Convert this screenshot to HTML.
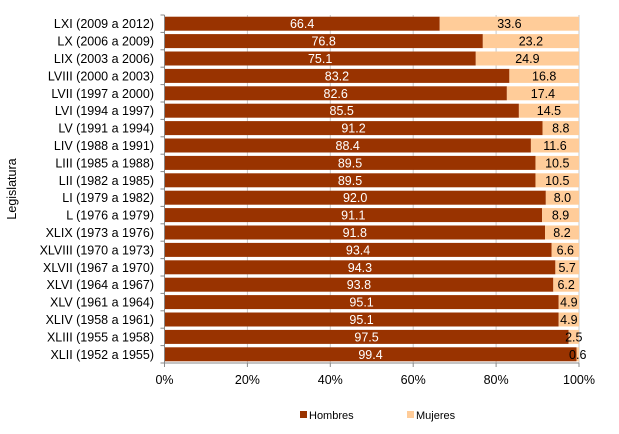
<!DOCTYPE html>
<html><head><meta charset="utf-8"><style>
body{margin:0;background:#fff}
svg{display:block;font-family:"Liberation Sans",Arial,sans-serif}
</style></head><body>
<svg width="619" height="434" xmlns="http://www.w3.org/2000/svg">
<g id="g"></g>
</svg>
<script>
var d=[["LXI (2009 a 2012)",66.4,"33.6"],["LX (2006 a 2009)",76.8,"23.2"],["LIX (2003 a 2006)",75.1,"24.9"],["LVIII (2000 a 2003)",83.2,"16.8"],["LVII (1997 a 2000)",82.6,"17.4"],["LVI (1994 a 1997)",85.5,"14.5"],["LV (1991 a 1994)",91.2,"8.8"],["LIV (1988 a 1991)",88.4,"11.6"],["LIII (1985 a 1988)",89.5,"10.5"],["LII (1982 a 1985)",89.5,"10.5"],["LI (1979 a 1982)",92.0,"8.0"],["L (1976 a 1979)",91.1,"8.9"],["XLIX (1973 a 1976)",91.8,"8.2"],["XLVIII (1970 a 1973)",93.4,"6.6"],["XLVII (1967 a 1970)",94.3,"5.7"],["XLVI (1964 a 1967)",93.8,"6.2"],["XLV (1961 a 1964)",95.1,"4.9"],["XLIV (1958 a 1961)",95.1,"4.9"],["XLIII (1955 a 1958)",97.5,"2.5"],["XLII (1952 a 1955)",99.4,"0.6"]];
var x0=164.5,W=414.5,y0=15,H=348,rh=H/20,s='';
for(var i=1;i<=5;i++){var x=x0+W*i/5;s+='<line x1="'+x+'" y1="'+y0+'" x2="'+x+'" y2="'+(y0+H)+'" stroke="#c8c8c8"/>';}
d.forEach(function(r,i){var y=y0+i*rh+1.7,h=rh-3.4,w=W*r[1]/100;
s+='<rect x="'+x0+'" y="'+y+'" width="'+w+'" height="'+h+'" fill="#993300"/>';
s+='<rect x="'+(x0+w)+'" y="'+y+'" width="'+(W-w)+'" height="'+h+'" fill="#ffcc99"/>';
var cy=y+h/2+4.5;
s+='<text x="'+(x0+w/2)+'" y="'+cy+'" fill="#fff" font-size="12.5" text-anchor="middle">'+r[1].toFixed(1)+'</text>';
s+='<text x="'+(x0+w+(W-w)/2)+'" y="'+cy+'" fill="#000" font-size="12.5" text-anchor="middle">'+r[2]+'</text>';
s+='<text x="154" y="'+(y0+i*rh+rh/2+4.5)+'" font-size="12.5" text-anchor="end">'+r[0]+'</text>';
s+='<line x1="'+(x0-4)+'" y1="'+(y0+i*rh)+'" x2="'+x0+'" y2="'+(y0+i*rh)+'" stroke="#888"/>';});
s+='<line x1="'+(x0-4)+'" y1="'+(y0+H)+'" x2="'+x0+'" y2="'+(y0+H)+'" stroke="#888"/>';
s+='<line x1="'+x0+'" y1="'+y0+'" x2="'+x0+'" y2="'+(y0+H)+'" stroke="#888"/>';
s+='<line x1="'+x0+'" y1="'+(y0+H)+'" x2="'+(x0+W)+'" y2="'+(y0+H)+'" stroke="#888"/>';
for(var i=0;i<=5;i++){var x=x0+W*i/5;s+='<line x1="'+x+'" y1="'+(y0+H)+'" x2="'+x+'" y2="'+(y0+H+4)+'" stroke="#888"/><text x="'+x+'" y="384" font-size="12.5" text-anchor="middle">'+(i*20)+'%</text>';}
s+='<text transform="translate(16,189) rotate(-90)" font-size="12.5" text-anchor="middle">Legislatura</text>';
s+='<rect x="300" y="411" width="7" height="7" fill="#993300"/><text x="309" y="419" font-size="11">Hombres</text>';
s+='<rect x="407" y="411" width="7" height="7" fill="#ffcc99"/><text x="416" y="419" font-size="11">Mujeres</text>';
document.getElementById('g').innerHTML=s;
</script>
</body></html>
